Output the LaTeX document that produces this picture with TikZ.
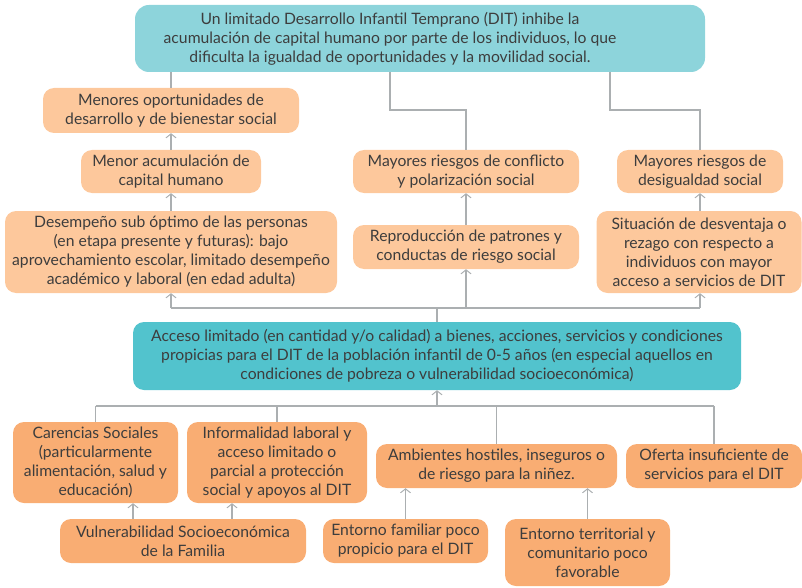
\documentclass[tikz,border=0pt]{standalone}
\usepackage{fontspec}
\setmainfont{Lato}
\usetikzlibrary{arrows.meta}

\definecolor{topfill}{HTML}{8DD4DB}
\definecolor{midfill}{HTML}{52C3CD}
\definecolor{peachlt}{HTML}{FDC89C}
\definecolor{peachdk}{HTML}{F9AD73}
\definecolor{txt}{HTML}{3D3D3D}
\definecolor{lnk}{HTML}{ABAFB1}

\tikzset{
  box/.style={rounded corners=11pt, text=txt, align=center, inner sep=2pt,
    font=\fontsize{15.7}{19}\selectfont},
  effect/.style={box, fill=peachlt},
  cause/.style={box, fill=peachdk},
  link/.style={draw=lnk, line width=1.6pt},
  arr/.style={link, -{Straight Barb[length=4pt, width=10pt, line width=1pt]}}
}

\begin{document}
\begin{tikzpicture}[x=1pt, y=-1pt]
  \useasboundingbox (0,0) rectangle (802,588);

  % Main problem (text sits left of the box centre)
  \node[box, fill=topfill, rounded corners=14pt, minimum width=570, minimum height=67] (top) at (420,38.5) {};
  \node[box] (toptext) at (390,38.5)
    {Un limitado Desarrollo Infantil Temprano (DIT) inhibe la\\
     acumulación de capital humano por parte de los individuos, lo que\\
     dificulta la igualdad de oportunidades y la movilidad social.};

  % Effects, left column
  \node[effect, minimum width=256, minimum height=45] (menopor) at (171,110.5)
    {Menores oportunidades de\\desarrollo y de bienestar social};
  \node[effect, minimum width=180, minimum height=43] (menacum) at (171,171.5)
    {Menor acumulación de\\capital humano};
  \node[effect, minimum width=332, minimum height=82] (desemp) at (171,252)
    {Desempeño sub óptimo de las personas\\
     (en etapa presente y futuras): bajo\\
     aprovechamiento escolar, limitado desempeño\\
     académico y laboral (en edad adulta)};

  % Effects, middle column
  \node[effect, minimum width=226, minimum height=43] (confl) at (466,171.5)
    {Mayores riesgos de conflicto\\y polarización social};
  \node[effect, minimum width=226, minimum height=44] (repro) at (466,247)
    {Reproducción de patrones y\\conductas de riesgo social};

  % Effects, right column
  \node[effect, minimum width=166, minimum height=43] (desig) at (700,171.5)
    {Mayores riesgos de\\desigualdad social};
  \node[effect, minimum width=205, minimum height=82] (situ) at (699,252)
    {Situación de desventaja o\\rezago con respecto a\\individuos con mayor\\acceso a servicios de DIT};

  % Central problem
  \node[box, fill=midfill, minimum width=608, minimum height=68] (center) at (437,356)
    {Acceso limitado (en cantidad y/o calidad) a bienes, acciones, servicios y condiciones\\
     propicias para el DIT de la población infantil de 0-5 años (en especial aquellos en\\
     condiciones de pobreza o vulnerabilidad socioeconómica)};

  % Direct causes
  \node[cause, minimum width=165, minimum height=81] (car) at (95.5,462.5)
    {Carencias Sociales\\(particularmente\\alimentación, salud y\\educación)};
  \node[cause, minimum width=180, minimum height=81] (inf) at (277,462.5)
    {Informalidad laboral y\\acceso limitado o\\parcial a protección\\social y apoyos al DIT};
  \node[cause, minimum width=241, minimum height=44] (amb) at (496.5,466)
    {Ambientes hostiles, inseguros o\\de riesgo para la niñez.};
  \node[cause, minimum width=176, minimum height=44] (ofe) at (714,466)
    {Oferta insuficiente de\\servicios para el DIT};

  % Underlying causes
  \node[cause, minimum width=246, minimum height=44] (vuln) at (183,541)
    {Vulnerabilidad Socioeconómica\\de la Familia};
  \node[cause, minimum width=165, minimum height=44] (fam) at (405.5,541)
    {Entorno familiar poco\\propicio para el DIT};
  \node[cause, minimum width=165, minimum height=67] (terr) at (587.5,552.5)
    {Entorno territorial y\\comunitario poco\\favorable};

  % Links from the main problem
  \draw[link] (top.south -| menopor.north) -- (menopor.north);
  \draw[link] ([xshift=-30pt]top.south) -- ++(0,38) -| (confl.north);
  \draw[link] ([xshift=190pt]top.south) -- ++(0,38) -| (desig.north);

  % Effect chains
  \draw[arr] (menacum.north) -- (menopor.south);
  \draw[arr] (desemp.north) -- (desemp.north |- menacum.south);
  \draw[arr] (repro.north) -- (confl.south);
  \draw[arr] (situ.north -| desig.south) -- (desig.south);

  % Bus above the central problem
  \coordinate (busup) at (center.north |- 0,308);
  \draw[link] (center.north) -- (busup);
  \draw[link] (busup -| desemp.south) -- (busup -| desig.south);
  \foreach \n in {desemp,repro}
    \draw[arr] (busup -| \n.south) -- (\n.south);
  \draw[arr] (busup -| desig.south) -- (desig.south |- situ.south);

  % Bus below the central problem
  \coordinate (buslo) at (center.south |- 0,406);
  \draw[arr] (buslo) -- (center.south);
  \draw[link] (buslo -| car.north) -- (buslo -| ofe.north);
  \foreach \n in {car,inf,amb,ofe}
    \draw[link] (buslo -| \n.north) -- (\n.north);

  % Underlying causes to direct causes
  \coordinate (v1) at ([xshift=-50pt]vuln.north);
  \coordinate (v2) at ([xshift=49pt]vuln.north);
  \draw[arr] (v1) -- (v1 |- car.south);
  \draw[arr] (v2) -- (v2 |- inf.south);
  \draw[arr] (fam.north) -- (fam.north |- amb.south);
  \draw[arr] (terr.north) -- (terr.north |- amb.south);
\end{tikzpicture}
\end{document}
